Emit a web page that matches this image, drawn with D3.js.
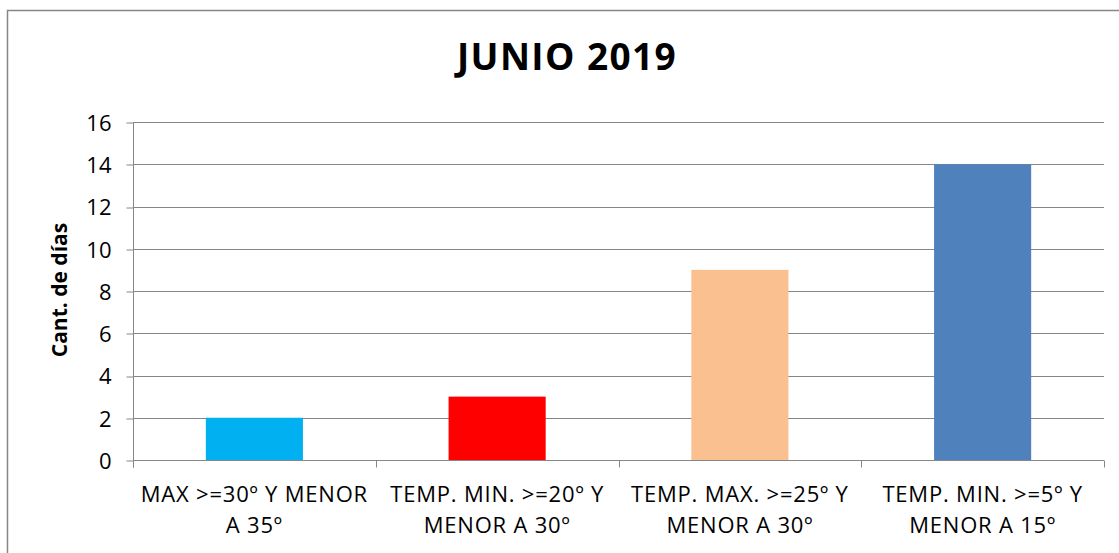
<!DOCTYPE html>
<html>
<head>
<meta charset="utf-8">
<script src="https://cdn.jsdelivr.net/npm/d3@7"></script>
<style>
  body { margin: 0; background: #fff; }
  svg { display: block; font-family: "Open Sans", sans-serif; }
</style>
</head>
<body>
<div class="chart"></div>
<script>
const categories = [
  'MAX >=30º Y MENOR A 35º',
  'TEMP. MIN. >=20º Y MENOR A 30º',
  'TEMP. MAX. >=25º Y MENOR A 30º',
  'TEMP. MIN. >=5º Y MENOR A 15º'
];
// how each label is split into lines
const categoryLines = [
  ['MAX >=30º Y MENOR', 'A 35º'],
  ['TEMP. MIN. >=20º Y', 'MENOR A 30º'],
  ['TEMP. MAX. >=25º Y', 'MENOR A 30º'],
  ['TEMP. MIN. >=5º Y', 'MENOR A 15º']
];
const values = [2, 3, 9, 14];
const barColors = ['#00B0F0', '#FF0000', '#FAC090', '#4F81BD'];
const yTicks = [0, 2, 4, 6, 8, 10, 12, 14, 16];
const title = 'JUNIO 2019';
const yLabel = 'Cant. de días';

const W = 1119, H = 553;
const margin = { top: 122, right: 15, bottom: 93, left: 133 };
const width = W - margin.left - margin.right;
const height = H - margin.top - margin.bottom;

const root = d3.select('.chart')
  .append('svg')
    .attr('width', W)
    .attr('height', H);

// chart frame (runs off the right and bottom of the picture)
root.append('rect')
  .attr('x', 7.5).attr('y', 10.5)
  .attr('width', W + 20).attr('height', H + 20)
  .attr('fill', 'none')
  .attr('stroke', '#868686')
  .attr('stroke-width', 1.5);

root.append('text')
  .attr('x', 567).attr('y', 70)
  .attr('text-anchor', 'middle')
  .style('font-size', '37px')
  .style('font-weight', 'bold')
  .style('letter-spacing', '1.4px')
  .text(title);

const svg = root.append('g')
  .attr('transform', `translate(${margin.left}, ${margin.top})`);

const xScale = d3.scaleBand()
  .domain(categories)
  .range([0, width])
  .paddingInner(0.6)
  .paddingOuter(0.3);

const xAxisScale = d3.scaleBand()
  .domain(categories)
  .range([0, width]);

const yScale = d3.scaleLinear()
  .domain([0, 16])
  .range([height, 0]);

// gridlines
svg.append('g')
  .selectAll('line')
  .data(yTicks)
  .enter()
  .append('line')
    .attr('x1', 0).attr('x2', width)
    .attr('y1', d => Math.round(yScale(d)) + 0.5)
    .attr('y2', d => Math.round(yScale(d)) + 0.5)
    .attr('stroke', '#868686')
    .attr('stroke-width', 1);

// bars
svg.selectAll('.bar')
  .data(values)
  .enter()
  .append('rect')
    .attr('class', 'bar')
    .attr('x', (d, i) => xScale(categories[i]))
    .attr('width', xScale.bandwidth())
    .attr('y', d => yScale(d))
    .attr('height', d => height - yScale(d))
    .attr('fill', (d, i) => barColors[i]);

// y axis
const yAxis = svg.append('g')
  .attr('transform', 'translate(0.5, 0.5)')
  .call(d3.axisLeft(yScale).tickValues(yTicks).tickSize(7).tickPadding(15).tickSizeOuter(0));
yAxis.attr('font-family', null).attr('font-size', null);
yAxis.select('.domain').attr('stroke', '#868686').attr('d', `M0,${yScale(16)}V${height + 7}`);
yAxis.selectAll('line').attr('stroke', '#868686');
yAxis.selectAll('text')
  .attr('fill', '#000')
  .style('font-size', '22px')
  .attr('dy', '0.36em');
yAxis.selectAll('.tick line')
  .attr('transform', d => `translate(0, ${Math.round(yScale(d)) - yScale(d)})`);

// x axis
const xAxis = svg.append('g')
  .attr('transform', `translate(0, ${height + 0.5})`);
xAxis.append('line')
  .attr('x1', 0).attr('x2', width)
  .attr('stroke', '#868686');
xAxis.selectAll('.xtick')
  .data(categories.concat(['end']))
  .enter()
  .append('line')
    .attr('class', 'xtick')
    .attr('x1', (d, i) => Math.round(i < categories.length ? xAxisScale(d) : width) + 0.5)
    .attr('x2', (d, i) => Math.round(i < categories.length ? xAxisScale(d) : width) + 0.5)
    .attr('y1', 0).attr('y2', 7)
    .attr('stroke', '#868686');

const labels = xAxis.selectAll('.xlabel')
  .data(categories)
  .enter()
  .append('text')
    .attr('class', 'xlabel')
    .attr('text-anchor', 'middle')
    .attr('x', d => xAxisScale(d) + xAxisScale.bandwidth() / 2)
    .attr('y', 41)
    .style('font-size', '22px')
    .style('letter-spacing', '0.8px')
    .attr('fill', '#000');
labels.selectAll('tspan')
  .data((d, i) => categoryLines[i])
  .enter()
  .append('tspan')
    .attr('x', function () { return d3.select(this.parentNode).attr('x'); })
    .attr('dy', (d, j) => j === 0 ? 0 : 31)
    .text(d => d);

// y label
root.append('text')
  .attr('transform', 'translate(67, 290) rotate(-90)')
  .attr('text-anchor', 'middle')
  .style('font-size', '21px')
  .style('font-weight', 'bold')
  .text(yLabel);
</script>
</body>
</html>
